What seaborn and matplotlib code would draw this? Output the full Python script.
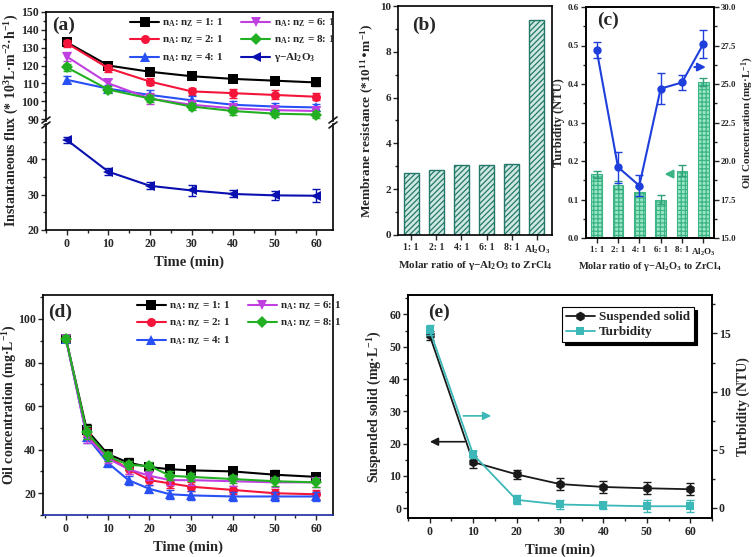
import numpy as np
import matplotlib
matplotlib.use('Agg')
import matplotlib.pyplot as plt
from matplotlib.ticker import MultipleLocator, FormatStrFormatter
import seaborn as sns

W, H = 756, 557

# ---- (a) instantaneous flux ----
time_a = [0, 10, 20, 30, 40, 50, 60]
flux_11 = [133, 120, 116.5, 114, 112.5, 111.5, 110.5]
flux_21 = [132.5, 118.5, 111, 105.5, 104.5, 103.5, 102.5]
flux_41 = [112, 107, 103.5, 100.5, 98, 97, 96.5]
flux_61 = [125, 110, 101.5, 98, 96, 95, 94.5]
flux_81 = [119, 106.5, 101.5, 97, 94.5, 93, 92.5]
flux_al = [45.5, 36.5, 32.5, 31.2, 30.2, 29.8, 29.7]
err_11 = [1.5, 1.2, 1.5, 1.8, 1.8, 1.8, 2.2]
err_21 = [2, 2, 2.2, 2, 2.5, 2.5, 2]
err_41 = [2, 2, 3, 2.5, 2, 2, 2]
err_61 = [2.5, 2.5, 3, 2, 2, 2, 2]
err_81 = [2, 2, 2, 2, 2, 2, 2]
err_al = [0.8, 1.0, 1.0, 1.5, 1.0, 1.2, 1.8]

# ---- (b) membrane resistance ----
ratio_labels = ['1: 1', '2: 1', '4: 1', '6: 1', '8: 1', r'Al$_2$O$_3$']
resistance = [2.7, 2.85, 3.05, 3.07, 3.12, 9.4]

# ---- (c) turbidity and oil concentration ----
turbidity_c = [0.165, 0.138, 0.12, 0.1, 0.175, 0.405]
turbidity_c_err = [0.008, 0.01, 0.012, 0.012, 0.015, 0.01]
oil_c = [27.2, 19.6, 18.4, 24.7, 25.1, 27.6]
oil_c_err = [0.5, 1.0, 0.7, 1.0, 0.5, 0.9]

# ---- (d) oil concentration vs time ----
time_d = [0, 5, 10, 15, 20, 25, 30, 40, 50, 60]
oil_11 = [91, 49, 38, 34, 32, 31, 30.5, 30, 28.5, 27.5]
oil_21 = [91, 47, 37, 31, 26, 24.5, 23, 21.5, 20, 19.5]
oil_41 = [91, 46, 34, 26, 22, 19.5, 19, 18.5, 18.5, 18.5]
oil_61 = [91, 46, 36, 31, 28, 26, 26, 25.5, 25, 25]
oil_81 = [91, 48, 37, 33, 32.5, 28, 27.5, 26.5, 25.5, 25]
oil_err = [1.5, 3, 2, 2, 2, 2, 2, 2, 2, 2]

# ---- (e) suspended solid and turbidity ----
time_e = [0, 10, 20, 30, 40, 50, 60]
solid = [53.5, 14.3, 10.5, 7.5, 6.6, 6.2, 5.9]
solid_err = [1.5, 1.8, 1.5, 1.8, 1.8, 1.8, 1.8]
turb_e = [15.3, 4.6, 0.7, 0.3, 0.22, 0.15, 0.15]
turb_e_err = [0.4, 0.3, 0.4, 0.4, 0.3, 0.5, 0.5]

ratio_names = [r'n$_A$: n$_Z$ = 1: 1', r'n$_A$: n$_Z$ = 2: 1', r'n$_A$: n$_Z$ = 4: 1',
               r'n$_A$: n$_Z$ = 6: 1', r'n$_A$: n$_Z$ = 8: 1']
ratio_colors = ['#000000', '#f5153a', '#2850f5', '#c03fe0', '#22b022']
ratio_markers = ['s', 'o', '^', 'v', 'D']


def box(x0, y0, x1, y1):
    return [x0 / W, 1 - y1 / H, (x1 - x0) / W, (y1 - y0) / H]


def setup_style():
    sns.set_theme(style='ticks')
    plt.rcParams['font.family'] = ['Liberation Serif', 'DejaVu Serif']
    plt.rcParams['font.weight'] = 'bold'
    plt.rcParams['axes.labelweight'] = 'bold'
    plt.rcParams['mathtext.default'] = 'regular'
    plt.rcParams['axes.linewidth'] = 1.2
    plt.rcParams['axes.edgecolor'] = 'black'
    plt.rcParams['axes.labelsize'] = 10.5
    plt.rcParams['xtick.labelsize'] = 8.5
    plt.rcParams['ytick.labelsize'] = 8.5
    plt.rcParams['xtick.direction'] = 'out'
    plt.rcParams['ytick.direction'] = 'out'
    plt.rcParams['xtick.major.size'] = 3.5
    plt.rcParams['ytick.major.size'] = 3.5
    plt.rcParams['xtick.minor.size'] = 2
    plt.rcParams['ytick.minor.size'] = 2
    plt.rcParams['xtick.major.width'] = 1
    plt.rcParams['ytick.major.width'] = 1
    plt.rcParams['xtick.major.pad'] = 2.5
    plt.rcParams['ytick.major.pad'] = 1.5
    plt.rcParams['hatch.linewidth'] = 0.9


def break_mark(fig, xpx, ypx):
    for dy in (-2.5, 2.5):
        fig.add_artist(plt.Line2D([(xpx - 4) / W, (xpx + 4) / W],
                                  [1 - (ypx + dy + 3) / H, 1 - (ypx + dy - 3) / H],
                                  color='k', lw=1.2))


def plot_flux(fig):
    ax_top = fig.add_axes(box(46, 12, 333, 121))
    ax_bot = fig.add_axes(box(46, 124, 333, 230))
    series = [flux_11, flux_21, flux_41, flux_61, flux_81, flux_al]
    errs = [err_11, err_21, err_41, err_61, err_81, err_al]
    names = ratio_names + [r'γ−Al$_2$O$_3$']
    colors = ratio_colors + ['#0a10b0']
    markers = ratio_markers + ['<']
    for ax in (ax_top, ax_bot):
        for y, e, n, c, m in zip(series, errs, names, colors, markers):
            ax.errorbar(time_a, y, yerr=e, fmt='none', ecolor=c, capsize=3, elinewidth=1, capthick=1)
            sns.lineplot(x=time_a, y=y, ax=ax, color=c, marker=m, markersize=6.5,
                         markeredgewidth=0, linewidth=1.5, label=n, legend=False)
        ax.set_xlim(-5, 64)
        ax.set_xlabel('')
        ax.set_ylabel('')
        ax.xaxis.set_minor_locator(MultipleLocator(5))
        ax.yaxis.set_minor_locator(MultipleLocator(5))
    ax_top.set_ylim(88.9, 150)
    ax_top.set_yticks([90, 100, 110, 120, 130, 140, 150])
    ax_top.spines['bottom'].set_visible(False)
    ax_top.tick_params(axis='x', which='both', bottom=False, labelbottom=False)
    ax_bot.set_ylim(20, 50)
    ax_bot.set_yticks([20, 30, 40])
    ax_bot.spines['top'].set_visible(False)
    ax_bot.set_xticks(time_a)
    ax_bot.set_xlabel('Time (min)')
    fig.text(12 / W, 1 - 120 / H, r'Instantaneous flux (* 10$^3$L·m$^{-2}$·h$^{-1}$)',
             rotation=90, ha='center', va='center', fontsize=10, fontweight='bold')
    break_mark(fig, 46, 122.5)
    break_mark(fig, 333, 122.5)
    ax_top.legend(ncol=2, loc='upper left', bbox_to_anchor=(0.27, 1.02), frameon=False,
                  fontsize=8, handlelength=2.6, handletextpad=0.3, columnspacing=1.6,
                  labelspacing=0.45, borderaxespad=0.2)
    ax_top.text(0.02, 0.88, '(a)', transform=ax_top.transAxes, fontsize=14,
                fontweight='bold', va='center')


def plot_resistance(fig):
    ax = fig.add_axes(box(398, 6, 552, 235))
    sns.barplot(x=ratio_labels, y=resistance, ax=ax, width=0.6, saturation=1,
                color='#cfe8e1', edgecolor='#24786a', linewidth=1)
    for p in ax.patches:
        p.set_hatch('//////')
    ax.set_xlim(-0.52, 5.6)
    ax.set_ylim(0, 10)
    ax.yaxis.set_major_locator(MultipleLocator(2))
    ax.yaxis.set_minor_locator(MultipleLocator(1))
    ax.tick_params(axis='x', labelsize=7)
    ax.tick_params(axis='y', labelsize=8)
    ax.set_xlabel(r'Molar ratio of γ−Al$_2$O$_3$ to ZrCl$_4$', fontsize=8, labelpad=2)
    ax.set_ylabel(r'Membrane resistance (*10$^{11}$•m$^{-1}$)', fontsize=9.5, labelpad=3)
    ax.text(0.09, 0.917, '(b)', transform=ax.transAxes, fontsize=14,
            fontweight='bold', va='center')


def plot_quality(fig):
    ax = fig.add_axes(box(586, 7, 714, 238))
    x = np.arange(len(ratio_labels))
    sns.barplot(x=ratio_labels, y=turbidity_c, ax=ax, width=0.5, saturation=1,
                color='#9be6c4', edgecolor='#3cb486', linewidth=0.8)
    for p in ax.patches:
        p.set_hatch('++++')
    ax.errorbar(x, turbidity_c, yerr=turbidity_c_err, fmt='none', ecolor='#2fa07a',
                capsize=3, elinewidth=1, capthick=1)
    ax.set_xlim(-0.5, 5.5)
    ax.set_ylim(0, 0.6)
    ax.yaxis.set_major_locator(MultipleLocator(0.1))
    ax.yaxis.set_minor_locator(MultipleLocator(0.05))
    ax.yaxis.set_major_formatter(FormatStrFormatter('%.1f'))
    ax.tick_params(axis='both', labelsize=6.5)
    ax.set_xlabel(r'Molar ratio of γ−Al$_2$O$_3$ to ZrCl$_4$', fontsize=7.5, labelpad=2)
    ax.set_ylabel('Turbidity (NTU)', fontsize=9, labelpad=2)
    ax2 = ax.twinx()
    ax2.errorbar(x, oil_c, yerr=oil_c_err, fmt='none', ecolor='#1f3fdc', capsize=3,
                 elinewidth=1, capthick=1)
    sns.lineplot(x=x, y=oil_c, ax=ax2, color='#1f3fdc', marker='o', markersize=6,
                 markeredgewidth=0, linewidth=1.5, legend=False)
    ax2.set_ylim(15, 30)
    ax2.yaxis.set_major_locator(MultipleLocator(2.5))
    ax2.yaxis.set_minor_locator(MultipleLocator(1.25))
    ax2.yaxis.set_major_formatter(FormatStrFormatter('%.1f'))
    ax2.tick_params(axis='y', labelsize=6.3, pad=1)
    ax2.set_ylabel(r'Oil Concentration (mg·L$^{-1}$)', fontsize=8)
    ax2.yaxis.set_label_coords((739.5 - 586) / 128, 0.5)
    ax.annotate('', xy=(5.25, 0.444), xytext=(4.45, 0.444),
                arrowprops=dict(arrowstyle='-|>', color='#1f3fdc', lw=1.5))
    ax.annotate('', xy=(3.05, 0.166), xytext=(3.65, 0.166),
                arrowprops=dict(arrowstyle='-|>', color='#3cb486', lw=1.5))
    ax.text(0.09, 0.944, '(c)', transform=ax.transAxes, fontsize=14,
            fontweight='bold', va='center')


def plot_oil(fig):
    ax = fig.add_axes(box(43, 295, 333, 515))
    series = [oil_11, oil_21, oil_41, oil_61, oil_81]
    for y, n, c, m in zip(series, ratio_names, ratio_colors, ratio_markers):
        ax.errorbar(time_d, y, yerr=oil_err, fmt='none', ecolor=c, capsize=3,
                    elinewidth=1, capthick=1)
        sns.lineplot(x=time_d, y=y, ax=ax, color=c, marker=m, markersize=6.5,
                     markeredgewidth=0, linewidth=1.5, label=n, legend=False)
    ax.set_xlim(-5.5, 64)
    ax.set_ylim(10, 111)
    ax.set_xticks([0, 10, 20, 30, 40, 50, 60])
    ax.xaxis.set_minor_locator(MultipleLocator(5))
    ax.yaxis.set_major_locator(MultipleLocator(20))
    ax.yaxis.set_minor_locator(MultipleLocator(10))
    ax.spines['bottom'].set_color('#1a2aa0')
    ax.set_xlabel('Time (min)')
    ax.set_ylabel(r'Oil concentration (mg·L$^{-1}$)', fontsize=10)
    ax.yaxis.set_label_coords((19 - 43) / 290, 0.5)
    ax.legend(ncol=2, loc='upper left', bbox_to_anchor=(0.3, 1.01), frameon=False,
              fontsize=8, handlelength=2.6, handletextpad=0.3, columnspacing=1.6,
              labelspacing=0.45, borderaxespad=0.2)
    ax.text(0.017, 0.92, '(d)', transform=ax.transAxes, fontsize=14,
            fontweight='bold', va='center')


def plot_solid(fig):
    ax = fig.add_axes(box(408, 295, 712, 518))
    teal = '#3cb8b8'
    ax.errorbar(time_e, solid, yerr=solid_err, fmt='none', ecolor='k', capsize=3,
                elinewidth=1, capthick=1)
    sns.lineplot(x=time_e, y=solid, ax=ax, color='k', marker='h', markersize=7,
                 markeredgewidth=0, linewidth=1.3, label='Suspended solid', legend=False)
    ax.set_xlim(-5, 65)
    ax.set_ylim(-3, 66)
    ax.set_xticks(time_e)
    ax.xaxis.set_minor_locator(MultipleLocator(5))
    ax.yaxis.set_major_locator(MultipleLocator(10))
    ax.yaxis.set_minor_locator(MultipleLocator(5))
    ax.set_xlabel('Time (min)')
    ax.set_ylabel(r'Suspended solid (mg·L$^{-1}$)', fontsize=10)
    ax2 = ax.twinx()
    ax2.errorbar(time_e, turb_e, yerr=turb_e_err, fmt='none', ecolor=teal, capsize=3,
                 elinewidth=1, capthick=1)
    sns.lineplot(x=time_e, y=turb_e, ax=ax2, color=teal, marker='s', markersize=6,
                 markeredgewidth=0, linewidth=1.3, label='Turbidity', legend=False)
    ax2.set_ylim(-0.86, 18.3)
    ax2.yaxis.set_major_locator(MultipleLocator(5))
    ax2.yaxis.set_minor_locator(MultipleLocator(2.5))
    ax2.set_ylabel('Turbidity (NTU)', fontsize=10)
    ax.annotate('', xy=(-0.6, 20.6), xytext=(8.7, 20.6),
                arrowprops=dict(arrowstyle='-|>', color='k', lw=1.2))
    ax.annotate('', xy=(14.8, 28.6), xytext=(7.1, 28.6),
                arrowprops=dict(arrowstyle='-|>', color=teal, lw=1.2))
    h1, l1 = ax.get_legend_handles_labels()
    h2, l2 = ax2.get_legend_handles_labels()
    leg = ax2.legend(h1 + h2, l1 + l2, loc='upper left', bbox_to_anchor=(0.484, 0.975),
                     fontsize=9.5, frameon=True, fancybox=False, framealpha=1,
                     edgecolor='black', shadow={'color': 'black', 'alpha': 1},
                     handlelength=2.2, handletextpad=0.3, borderpad=0.3, labelspacing=0.2)
    leg.get_frame().set_linewidth(0.8)
    ax.text(0.066, 0.924, '(e)', transform=ax.transAxes, fontsize=14,
            fontweight='bold', va='center')


def main():
    setup_style()
    fig = plt.figure(figsize=(W / 100, H / 100), dpi=100)
    plot_flux(fig)
    plot_resistance(fig)
    plot_quality(fig)
    plot_oil(fig)
    plot_solid(fig)
    fig.savefig('out.png', dpi=100)
    plt.close(fig)


if __name__ == '__main__':
    main()
